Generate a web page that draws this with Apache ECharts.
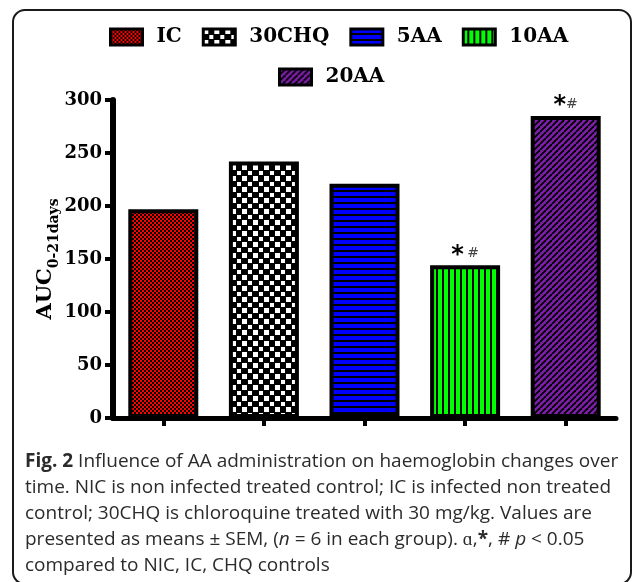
<!DOCTYPE html>
<html>
<head>
<meta charset="utf-8">
<script src="https://cdn.jsdelivr.net/npm/echarts@6/dist/echarts.min.js"></script>
<style>
html,body{margin:0;padding:0;background:#fff;}
#chart{width:634px;height:582px;}
</style>
</head>
<body>
<div id="chart"></div>
<script>
// ---- data ----
const categories = ['IC', '30CHQ', '5AA', '10AA', '20AA'];
const aucValues = [197, 242, 221, 144, 285];
const significance = ['', '', '', '* #', '*#'];
const yMin = 0, yMax = 300, yInterval = 50;
const yAxisTitle = 'AUC';
const yAxisSub = '0-21days';
const captionLines = [
  '{b|Fig. 2} Influence of AA administration on haemoglobin changes over',
  'time. NIC is non infected treated control; IC is infected non treated',
  'control; 30CHQ is chloroquine treated with 30 mg/kg. Values are',
  'presented as means ± SEM, ({i|n} = 6 in each group). ɑ,{b|*}, # {i|p} < 0.05',
  'compared to NIC, IC, CHQ controls'
];

// ---- patterns ----
function makePattern(w, h, draw) {
  const c = document.createElement('canvas');
  c.width = w; c.height = h;
  const ctx = c.getContext('2d');
  draw(ctx, w, h);
  return { image: c, repeat: 'repeat' };
}
const patterns = [
  makePattern(4, 4, (ctx) => {
    ctx.fillStyle = '#000'; ctx.fillRect(0, 0, 4, 4);
    ctx.fillStyle = '#ff0000'; ctx.fillRect(0, 0, 2, 2); ctx.fillRect(2, 2, 2, 2);
  }),
  makePattern(11, 11, (ctx) => {
    ctx.fillStyle = '#000'; ctx.fillRect(0, 0, 11, 11);
    ctx.fillStyle = '#fff'; ctx.fillRect(0, 0, 5, 5); ctx.fillRect(6, 6, 4, 4);
  }),
  makePattern(6, 6, (ctx) => {
    ctx.fillStyle = '#000'; ctx.fillRect(0, 0, 6, 6);
    ctx.fillStyle = '#0000ff'; ctx.fillRect(0, 0, 6, 4);
  }),
  makePattern(6, 6, (ctx) => {
    ctx.fillStyle = '#000'; ctx.fillRect(0, 0, 6, 6);
    ctx.fillStyle = '#00ff00'; ctx.fillRect(0, 0, 4, 6);
  }),
  makePattern(6, 6, (ctx) => {
    ctx.fillStyle = '#7d1ea8'; ctx.fillRect(0, 0, 6, 6);
    ctx.strokeStyle = '#000'; ctx.lineWidth = 1.8;
    for (const o of [-6, 0, 6]) {
      ctx.beginPath(); ctx.moveTo(o, 6); ctx.lineTo(o + 6, 0); ctx.stroke();
    }
  })
];

const serif = 'DejaVu Serif';

const series = categories.map((name, i) => ({
  name: name,
  type: 'bar',
  barWidth: 70,
  barGap: '-100%',
  itemStyle: { color: patterns[i], borderColor: '#000', borderWidth: 4 },
  label: {
    show: !!significance[i],
    position: 'top',
    distance: -2,
    formatter: () => significance[i].replace('*', '{s|*}').replace('#', '{h|#}'),
    rich: {
      s: { fontSize: 24, fontWeight: 'bold', color: '#000', fontFamily: 'DejaVu Sans' },
      h: { fontSize: 14, color: '#444', fontFamily: 'DejaVu Sans', padding: [0, 0, 4, 0] }
    }
  },
  data: categories.map((c, j) => (j === i ? aucValues[i] : '-'))
}));

const legendText = {
  fontFamily: serif, fontWeight: 'bold', fontSize: 20, color: '#000',
  padding: [0, 0, 0, 9]
};

const chart = echarts.init(document.getElementById('chart'), null, { renderer: 'canvas' });
chart.setOption({
  animation: false,
  backgroundColor: '#fff',
  legend: [
    {
      data: categories.slice(0, 4),
      left: 104, top: 22,
      itemWidth: 32, itemHeight: 16, itemGap: 20,
      icon: 'rect',
      itemStyle: { borderColor: '#000', borderWidth: 3 },
      textStyle: legendText
    },
    {
      data: categories.slice(4),
      left: 273, top: 62,
      itemWidth: 32, itemHeight: 16, itemGap: 20,
      icon: 'rect',
      itemStyle: { borderColor: '#000', borderWidth: 3 },
      textStyle: legendText
    }
  ],
  grid: { left: 113, right: 18, top: 100, bottom: 164, containLabel: false },
  xAxis: {
    type: 'category',
    data: categories,
    axisLine: { lineStyle: { color: '#000', width: 5 } },
    axisTick: { show: true, alignWithLabel: true, length: 8, lineStyle: { color: '#000', width: 4 } },
    axisLabel: { show: false },
    splitLine: { show: false }
  },
  yAxis: {
    type: 'value',
    min: yMin, max: yMax, interval: yInterval,
    name: '{a|' + yAxisTitle + '}{b|' + yAxisSub + '}',
    nameLocation: 'middle',
    nameRotate: 90,
    nameGap: 57,
    nameMoveOverlap: false,
    nameTextStyle: {
      rich: {
        a: { fontFamily: serif, fontWeight: 'bold', fontSize: 21, color: '#000', verticalAlign: 'bottom', lineHeight: 24 },
        b: { fontFamily: serif, fontWeight: 'bold', fontSize: 14, color: '#000', verticalAlign: 'bottom', padding: [0, 0, -5, 0], lineHeight: 24 }
      }
    },
    axisLine: { show: true, lineStyle: { color: '#000', width: 6 } },
    axisTick: { show: true, length: 8, lineStyle: { color: '#000', width: 4 } },
    axisLabel: { fontFamily: serif, fontWeight: 'bold', fontSize: 18, color: '#000', margin: 11 },
    splitLine: { show: false }
  },
  graphic: [
    {
      type: 'rect',
      shape: { x: 13, y: 10, width: 618, height: 574, r: 12 },
      style: { fill: 'none', stroke: '#1a1a1a', lineWidth: 2 },
      silent: true
    }
  ].concat(captionLines.map((t, i) => ({
    type: 'text',
    left: 25,
    top: 452 + i * 26,
    style: {
      text: t,
      fontFamily: 'Open Sans',
      fontSize: 19,
      fill: '#2b2b2b',
      rich: {
        b: { fontFamily: 'Open Sans', fontSize: 19, fontWeight: 'bold', fill: '#2b2b2b' },
        i: { fontFamily: 'Open Sans', fontSize: 19, fontStyle: 'italic', fill: '#2b2b2b' }
      }
    }
  }))),
  series: series
});
</script>
</body>
</html>
